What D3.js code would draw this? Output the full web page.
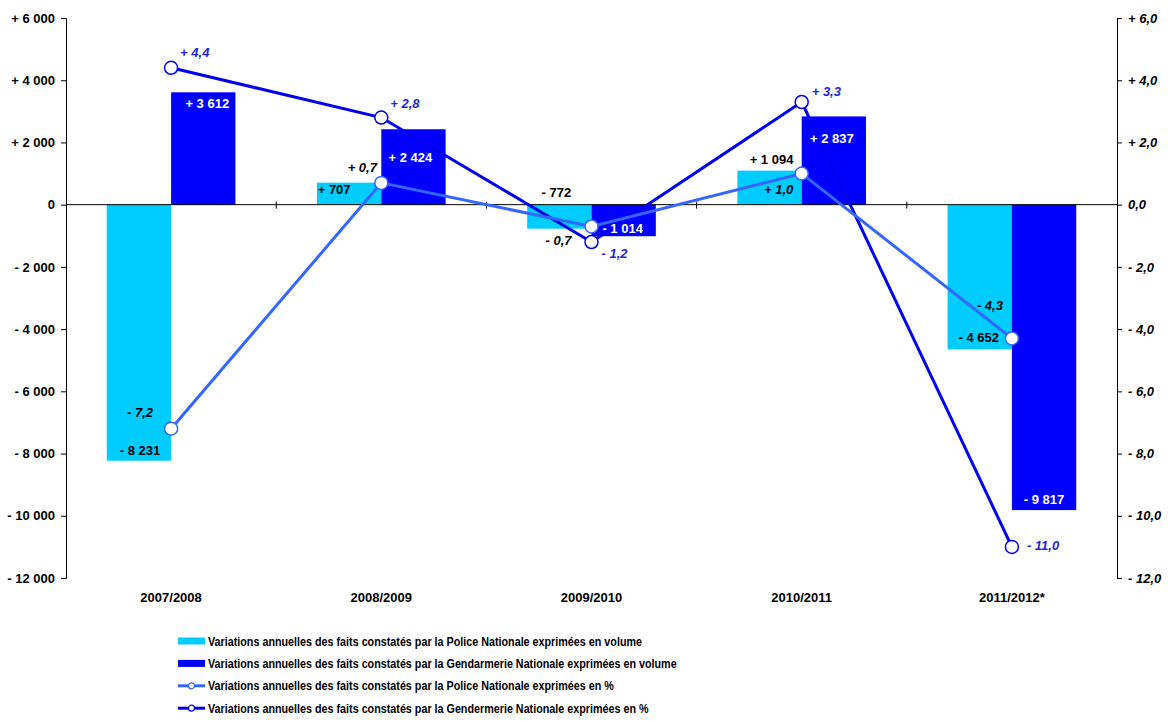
<!DOCTYPE html>
<meta charset="utf-8">
<style>
body { margin: 0; background: #fff; }
svg { font-family: "Liberation Sans", Arial, sans-serif; font-weight: bold; }
.axis text { font-size: 13px; fill: #000; }
.axis path, .axis line { stroke: #000; }
.lbl { font-size: 13px; }
.legend text { font-size: 13px; }
</style>
<svg width="1168" height="722"></svg>
<script src="https://cdnjs.cloudflare.com/ajax/libs/d3/7.8.5/d3.min.js"></script>
<script>

var categories = ["2007/2008", "2008/2009", "2009/2010", "2010/2011", "2011/2012*"];
var policeVolume = [-8231, 707, -772, 1094, -4652];
var gendVolume = [3612, 2424, -1014, 2837, -9817];
var policePct = [-7.2, 0.7, -0.7, 1.0, -4.3];
var gendPct = [4.4, 2.8, -1.2, 3.3, -11.0];
var leftTicks = [-12000, -10000, -8000, -6000, -4000, -2000, 0, 2000, 4000, 6000];
var rightTicks = [-12, -10, -8, -6, -4, -2, 0, 2, 4, 6];
var legendLabels = [
  "Variations annuelles des faits constatés par la Police Nationale exprimées en volume",
  "Variations annuelles des faits constatés par la Gendarmerie Nationale exprimées en volume",
  "Variations annuelles des faits constatés par la Police Nationale exprimées en %",
  "Variations annuelles des faits constatés par la Gendermerie Nationale exprimées en %"
];

// label nudges [dx, dy] from the bar end / marker
var nudgePoliceVol = [[1, -10], [-15, 7], [-3, -36], [2, -11], [-1, -12]];
var nudgeGendVol = [[4, 11], [-3, 28], [-1, -8], [-2, 22], [0, -11]];
var nudgePolicePct = [[-31, -16], [-19, -15], [-33, 14], [-23, 16], [-22, -33]];
var nudgeGendPct = [[9, -15], [9, -14], [10, 11], [10, -11], [15, -1]];

var cPolice = "#00ccff", cGend = "#0000ff", cPoliceLine = "#3366ff", cGendLine = "#0000ee";

var svg = d3.select("svg");
var plotLeft = 66, plotRight = 1117, plotTop = 18, plotBottom = 578;

var x = d3.scaleBand().domain(categories).range([plotLeft, plotRight]);
var yL = d3.scaleLinear().domain([-12000, 6000]).range([plotBottom, plotTop]);
var yR = d3.scaleLinear().domain([-12, 6]).range([plotBottom, plotTop]);
var bw = x.bandwidth() * 0.306;
function cx(i) { return x(categories[i]) + x.bandwidth() / 2; }

function signed(v, s) { return v > 0 ? "+ " + s : v < 0 ? "- " + s : s; }
function fmtVol(v) { return signed(v, d3.format(",")(Math.abs(v)).replace(/,/g, " ")); }
function fmtPct(v) { return signed(v, d3.format(".1f")(Math.abs(v)).replace(".", ",")); }

// bars
var bars = svg.append("g");
bars.selectAll(".p").data(policeVolume).enter().append("rect")
    .attr("x", function(d, i) { return cx(i) - bw; })
    .attr("y", function(d) { return yL(Math.max(0, d)); })
    .attr("width", bw)
    .attr("height", function(d) { return Math.abs(yL(d) - yL(0)); })
    .attr("fill", cPolice);
bars.selectAll(".g").data(gendVolume).enter().append("rect")
    .attr("x", function(d, i) { return cx(i); })
    .attr("y", function(d) { return yL(Math.max(0, d)); })
    .attr("width", bw)
    .attr("height", function(d) { return Math.abs(yL(d) - yL(0)); })
    .attr("fill", cGend);

// zero line with category ticks
svg.append("line").attr("x1", plotLeft).attr("x2", plotRight)
    .attr("y1", yL(0)).attr("y2", yL(0)).attr("stroke", "#000");
svg.append("g").selectAll("line").data(categories.slice(1)).enter().append("line")
    .attr("x1", function(d) { return x(d); }).attr("x2", function(d) { return x(d); })
    .attr("y1", yL(0) - 3).attr("y2", yL(0) + 4).attr("stroke", "#000");

// axes
svg.append("g").attr("class", "axis").attr("transform", "translate(" + plotLeft + ",0)")
    .call(d3.axisLeft(yL).tickValues(leftTicks).tickSizeOuter(0).tickSize(5).tickPadding(6).tickFormat(fmtVol));
svg.append("g").attr("class", "axis").attr("transform", "translate(" + plotRight + ",0)")
    .call(d3.axisRight(yR).tickValues(rightTicks).tickSizeOuter(0).tickSize(5).tickPadding(6).tickFormat(fmtPct))
    .selectAll("text").style("font-style", "italic");

// category labels
svg.append("g").selectAll("text").data(categories).enter().append("text")
    .attr("class", "lbl")
    .attr("x", function(d, i) { return cx(i); })
    .attr("y", 597).attr("dy", "0.35em")
    .attr("text-anchor", "middle")
    .text(function(d) { return d; });

// lines
function drawLine(vals, color) {
  var line = d3.line().x(function(d, i) { return cx(i); }).y(function(d) { return yR(d); });
  var g = svg.append("g");
  g.append("path").datum(vals).attr("d", line)
      .attr("fill", "none").attr("stroke", color).attr("stroke-width", 3);
  return g;
}
var gGend = drawLine(gendPct, cGendLine);
var gPol = drawLine(policePct, cPoliceLine);
[[gGend, gendPct, cGendLine], [gPol, policePct, cPoliceLine]].forEach(function(s) {
  s[0].selectAll("circle").data(s[1]).enter().append("circle")
      .attr("cx", function(d, i) { return cx(i); })
      .attr("cy", function(d) { return yR(d); })
      .attr("r", 6.5).attr("fill", "#fff")
      .attr("stroke", s[2]).attr("stroke-width", 1.5);
});

// data labels
function labels(vals, nudge, px, py, fmt, color, anchor, italic) {
  svg.append("g").selectAll("text").data(vals).enter().append("text")
      .attr("class", "lbl")
      .attr("x", function(d, i) { return px(d, i) + nudge[i][0]; })
      .attr("y", function(d, i) { return py(d, i) + nudge[i][1]; })
      .attr("dy", "0.35em")
      .attr("text-anchor", anchor)
      .style("font-style", italic ? "italic" : "normal")
      .attr("fill", color)
      .text(fmt);
}
labels(policeVolume, nudgePoliceVol, function(d, i) { return cx(i) - bw / 2; },
       function(d) { return yL(d); }, fmtVol, "#000", "middle", false);
labels(gendVolume, nudgeGendVol, function(d, i) { return cx(i) + bw / 2; },
       function(d) { return yL(d); }, fmtVol, "#fff", "middle", false);
labels(policePct, nudgePolicePct, function(d, i) { return cx(i); },
       function(d) { return yR(d); }, fmtPct, "#000", "middle", true);
labels(gendPct, nudgeGendPct, function(d, i) { return cx(i); },
       function(d) { return yR(d); }, fmtPct, "#1f1fe6", "start", true);

// legend (condensed text like the original narrow font)
var legend = svg.append("g").attr("class", "legend");
var rows = legend.selectAll("g").data(legendLabels).enter().append("g")
    .attr("transform", function(d, i) { return "translate(178," + (641 + i * 22.4) + ")"; });
var squeeze = null;
rows.each(function(d, i) {
  var g = d3.select(this);
  if (i < 2) {
    g.append("rect").attr("x", 0).attr("y", -3.5).attr("width", 27).attr("height", 7)
        .attr("fill", i == 0 ? cPolice : cGend);
  } else {
    var c = i == 2 ? cPoliceLine : cGendLine;
    g.append("line").attr("x1", 0).attr("x2", 27).attr("y1", 0).attr("y2", 0)
        .attr("stroke", c).attr("stroke-width", 3);
    g.append("circle").attr("cx", 13.5).attr("cy", 0).attr("r", 3)
        .attr("fill", "#fff").attr("stroke", c).attr("stroke-width", 1.2);
  }
  var t = g.append("text").attr("x", 30).attr("y", 0).attr("dy", "0.35em").text(d);
  var w = t.node().getComputedTextLength();
  if (squeeze === null) squeeze = 434 / w;
  t.attr("textLength", w * squeeze).attr("lengthAdjust", "spacingAndGlyphs");
});

</script>
